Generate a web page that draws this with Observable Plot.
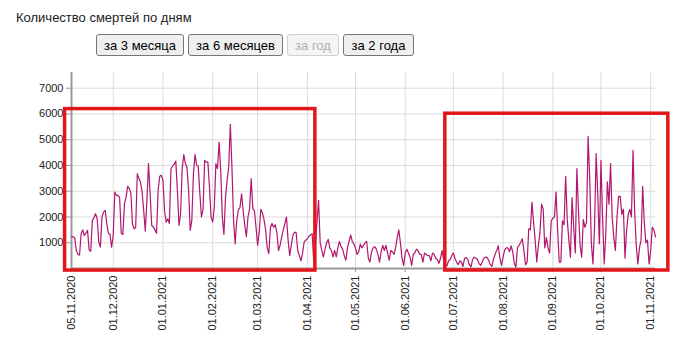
<!DOCTYPE html>
<html><head><meta charset="utf-8">
<script src="https://cdn.jsdelivr.net/npm/d3@7"></script>
<script src="https://cdn.jsdelivr.net/npm/@observablehq/plot@0.6"></script>
<style>
body{margin:0;background:#fff;font-family:"Liberation Sans",Arial,sans-serif;}
#wrap{position:relative;width:688px;height:357px;overflow:hidden;}
#title{position:absolute;left:16px;top:10px;font-size:13px;color:#222;line-height:15px;}
.btns{position:absolute;left:96px;top:34px;display:flex;gap:4px;}
.btns button{height:22px;font:13px "Liberation Sans",Arial,sans-serif;background:#efefef;border:1px solid #767676;border-radius:3px;padding:0;color:#000;}
.btns button:disabled{color:#b0b0b0;border-color:#d0d0d0;background:#f4f4f4;}
#chart{position:absolute;left:0;top:60px;}
</style></head>
<body>
<div id="wrap">
  <div id="title">Количество смертей по дням</div>
  <div class="btns">
    <button style="width:88px">за 3 месяца</button>
    <button style="width:95px">за 6 месяцев</button>
    <button style="width:52px" disabled>за год</button>
    <button style="width:71px">за 2 года</button>
  </div>
  <div id="chart"></div>
</div>
<script>
// Daily deaths starting 05.11.2020
const startDate = "2020-11-05";
const deaths = [
1240,1230,1190,700,550,520,1350,1500,1280,1370,
1480,720,670,1870,1970,2130,1930,1020,830,2000,
2190,2260,1740,1370,1320,830,1280,2970,2840,2840,
2750,1370,1320,2510,2750,3190,3100,2930,1740,1540,
1600,3680,3490,3360,2970,2250,1450,2650,4070,2900,
1670,1610,1500,1370,3030,3580,3620,3420,2250,1800,
1930,1740,3880,3970,4050,4170,3030,1670,2130,3880,
4420,4070,3920,3030,1480,1870,3680,4420,4010,3970,
2900,2000,2300,4200,4130,4130,3160,2000,1800,2380,
4070,3880,4910,3810,2000,1320,2770,3420,3940,5600,
3940,1870,960,1870,2280,2360,2900,2250,1670,1240,
2000,2320,3490,2320,2250,1610,
900,1400,2300,2150,1900,1500,800,580,1600,1750,1600,1700,1400,700,
900,1220,1500,1750,2000,1100,500,900,1300,1400,1400,
700,500,300,600,1020,1100,1150,1250,1300,1350,
250,960,1800,2650,1000,700,450,750,1000,1130,
800,700,450,700,450,800,1050,850,750,500,
320,800,1050,1300,1050,950,800,550,650,950,
800,900,1000,1050,400,250,650,800,850,750,
550,250,650,900,700,900,600,320,700,650,
550,800,1200,1500,1000,400,120,600,750,600,
450,120,550,600,750,700,550,550,250,600,
550,500,500,300,600,550,400,350,200,400,
700,300,150,100,300,
350,500,600,400,250,150,300,250,80,400,
420,350,150,60,350,440,400,350,200,120,
250,400,440,430,320,150,80,350,550,700,
880,400,120,450,720,800,800,650,880,650,
200,50,830,900,1020,1150,700,150,250,1540,
1500,2580,1800,1100,250,900,1400,2500,2300,800,
1200,800,600,1850,1950,2000,2970,1500,250,250,
1850,1700,3580,1900,1100,440,2750,1600,600,3880,
2250,900,440,1900,1600,1800,5130,3500,1000,180,
1600,4460,2900,960,4200,2000,180,1300,3360,2500,
4070,2000,1200,700,2000,2800,2800,2100,2300,400,
1500,2100,2300,2000,4590,2200,900,180,800,1100,
3190,1800,1000,1100,180,700,1600,1500,1230
];
const xTickLabels = ["05.11.2020","01.12.2020","01.01.2021","01.02.2021","01.03.2021","01.04.2021","01.05.2021","01.06.2021","01.07.2021","01.08.2021","01.09.2021","01.10.2021","01.11.2021"];
const yTicks = [1000,2000,3000,4000,5000,6000,7000];
const yMax = 7610;
// highlight boxes (annotations)
const boxStart = ["2020-11-01","2021-06-26"];
const boxEnd = ["2021-04-06","2021-11-12"];
const boxTop = [6190, 6010];
const boxBottom = [-80, -78];

const parseIso = d3.utcParse("%Y-%m-%d");
const parseRu = d3.utcParse("%d.%m.%Y");
const start = parseIso(startDate);
const data = deaths.map((v, i) => ({date: d3.utcDay.offset(start, i), value: v}));
const tickDates = xTickLabels.map(parseRu);
const boxes = boxStart.map((s, i) => ({x1: parseIso(s), x2: parseIso(boxEnd[i]), y1: boxBottom[i], y2: boxTop[i]}));

const chart = Plot.plot({
  width: 688, height: 297,
  marginTop: 12, marginBottom: 89, marginLeft: 71, marginRight: 33,
  style: {fontFamily: "'Liberation Sans', Arial, sans-serif", fontSize: "11px", color: "#222", overflow: "visible", background: "transparent"},
  x: {type: "utc", domain: d3.extent(data, d => d.date)},
  y: {domain: [0, yMax]},
  marks: [
    Plot.gridX(tickDates, {stroke: "#dcdcdc", strokeOpacity: 1}),
    Plot.gridY(yTicks, {stroke: "#dcdcdc", strokeOpacity: 1}),
    Plot.axisY(yTicks, {tickSize: 5, tickPadding: 3, stroke: "#999", fill: "#222", label: null, tickFormat: d => String(d)}),
    Plot.axisX(tickDates, {tickSize: 4, tickPadding: 3, tickRotate: -90, stroke: "#999", fill: "#222", label: null, tickFormat: d3.utcFormat("%d.%m.%Y")}),
    Plot.ruleX([data[0].date], {stroke: "#999", strokeWidth: 2}),
    Plot.ruleY([0], {stroke: "#999", strokeWidth: 2}),
    Plot.line(data, {x: "date", y: "value", stroke: "#b2166f", strokeWidth: 1.2}),
    Plot.rect(boxes, {x1: "x1", x2: "x2", y1: "y1", y2: "y2", fill: "none", stroke: "#e3161b", strokeWidth: 3.5})
  ]
});
document.getElementById("chart").appendChild(chart);
</script>
</body></html>
